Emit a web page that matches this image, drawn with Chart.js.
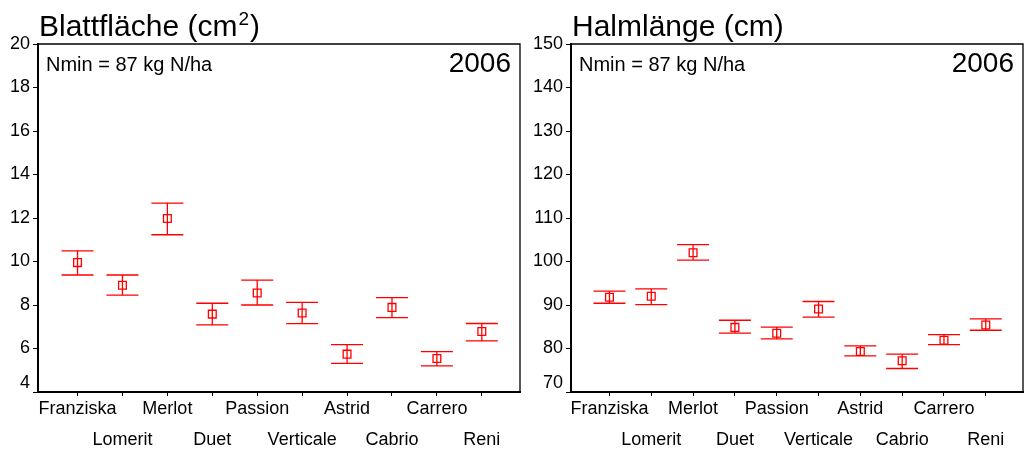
<!DOCTYPE html>
<html lang="de">
<head>
<meta charset="UTF-8"/>
<title>Blattfläche / Halmlänge 2006</title>
<style>
  html, body { margin:0; padding:0; background:#fff; }
  .panel { position:absolute; top:0; height:452px; }
  #leftPanel { left:0; width:521px; }
  #rightPanel { left:521px; width:503px; }
</style>
<script src="https://cdn.jsdelivr.net/npm/chart.js@4"></script>
</head>
<body>
<div class="panel" id="leftPanel"><canvas id="leafChart"></canvas></div>
<div class="panel" id="rightPanel"><canvas id="strawChart"></canvas></div>
<script>
  const categories = ['Franziska', 'Lomerit', 'Merlot', 'Duet', 'Passion', 'Verticale', 'Astrid', 'Cabrio', 'Carrero', 'Reni'];

  // Blattfläche (cm²)
  const leafMean = [9.95, 8.91, 11.98, 7.58, 8.55, 7.63, 5.74, 7.89, 5.54, 6.78];
  const leafLow  = [9.38, 8.45, 11.23, 7.09, 8.00, 7.14, 5.32, 7.42, 5.20, 6.35];
  const leafHigh = [10.49, 9.38, 12.68, 8.08, 9.14, 8.12, 6.18, 8.34, 5.86, 7.15];
  const leafTicks = [4, 6, 8, 10, 12, 14, 16, 18, 20];

  // Halmlänge (cm)
  const strawMean = [91.8, 92.0, 102.0, 84.85, 83.5, 89.1, 79.3, 77.2, 81.9, 85.4];
  const strawLow  = [90.4, 90.1, 100.3, 83.55, 82.2, 87.2, 78.3, 75.4, 80.9, 84.2];
  const strawHigh = [93.2, 93.7, 103.9, 86.5, 84.9, 90.8, 80.6, 78.7, 83.2, 86.8];
  const strawTicks = [70, 80, 90, 100, 110, 120, 130, 140, 150];

  const FONT = 'Arial, "Liberation Sans", sans-serif';
  const RED = '#ff0000';

  // error bars, frame and texts drawn with the chart's own scales
  const extras = {
    id: 'extras',
    afterDatasetsDraw(chart, args, opts) {
      const { ctx, chartArea: a, scales: { x, y } } = chart;
      ctx.save();
      ctx.strokeStyle = RED;
      ctx.lineWidth = 1.3;
      opts.low.forEach((lo, i) => {
        const px = x.getPixelForValue(i + 1);
        const yl = y.getPixelForValue(lo);
        const yh = y.getPixelForValue(opts.high[i]);
        ctx.beginPath();
        ctx.moveTo(px, yl); ctx.lineTo(px, yh);
        ctx.moveTo(px - 16, yl); ctx.lineTo(px + 16, yl);
        ctx.moveTo(px - 16, yh); ctx.lineTo(px + 16, yh);
        ctx.stroke();
      });
      // top and right frame
      ctx.strokeStyle = '#000';
      ctx.lineWidth = 1.3;
      ctx.beginPath();
      ctx.moveTo(a.left, a.top); ctx.lineTo(a.right, a.top); ctx.lineTo(a.right, a.bottom);
      ctx.stroke();
      // texts
      ctx.fillStyle = '#000';
      ctx.textBaseline = 'alphabetic';
      ctx.textAlign = 'left';
      ctx.font = '30px ' + FONT;
      let tx = a.left + 1;
      const ty = a.top - 8;
      ctx.fillText(opts.title, tx, ty);
      if (opts.sup) {
        tx += ctx.measureText(opts.title).width + 1;
        ctx.font = '19px ' + FONT;
        ctx.fillText(opts.sup, tx, ty - 11);
        tx += ctx.measureText(opts.sup).width + 1;
        ctx.font = '30px ' + FONT;
        ctx.fillText(')', tx, ty);
      }
      ctx.font = '20px ' + FONT;
      ctx.fillText('Nmin = 87 kg N/ha', a.left + 8, a.top + 27);
      ctx.textAlign = 'right';
      ctx.font = '28px ' + FONT;
      ctx.fillText('2006', a.right - 9, a.top + 28);
      ctx.restore();
    }
  };

  function makeChart(id, mean, low, high, yTicks, title, sup, yWidth, xMin, xMax) {
    return new Chart(document.getElementById(id), {
      type: 'scatter',
      data: {
        datasets: [{
          data: mean.map((v, i) => ({ x: i + 1, y: v })),
          pointStyle: 'rect',
          pointRadius: 5.5,
          pointHoverRadius: 5.5,
          borderColor: RED,
          backgroundColor: 'rgba(0,0,0,0)',
          borderWidth: 1.3
        }]
      },
      options: {
        responsive: true,
        maintainAspectRatio: false,
        animation: false,
        layout: { autoPadding: false, padding: { top: 44, right: 1, left: 0, bottom: 0 } },
        plugins: {
          legend: { display: false },
          tooltip: { enabled: false },
          extras: { low, high, title, sup }
        },
        scales: {
          x: {
            type: 'linear',
            min: xMin,
            max: xMax,
            afterBuildTicks: s => { s.ticks = categories.map((c, i) => ({ value: i + 1 })); },
            afterFit: s => { s.height = 60; s.paddingLeft = 0; s.paddingRight = 0; },
            grid: { drawOnChartArea: false, drawTicks: true, tickLength: 4, color: '#000' },
            border: { display: true, color: '#000', width: 2 },
            ticks: {
              autoSkip: false,
              maxRotation: 0,
              padding: -2,
              color: '#000',
              font: { family: FONT, size: 18, lineHeight: 1.7 },
              callback: v => {
                const i = Math.round(v) - 1;
                return i % 2 === 0 ? [categories[i], ''] : ['', categories[i]];
              }
            }
          },
          y: {
            min: yTicks[0],
            max: yTicks[yTicks.length - 1],
            afterBuildTicks: s => { s.ticks = yTicks.map(v => ({ value: v })); },
            afterFit: s => { s.width = yWidth; s.paddingTop = 0; s.paddingBottom = 0; },
            grid: { drawOnChartArea: false, drawTicks: true, tickLength: 5, color: '#000' },
            border: { display: true, color: '#000', width: 2 },
            ticks: {
              padding: 3,
              color: '#000',
              font: { family: FONT, size: 18, lineHeight: 1.0 },
              callback: v => v === yTicks[0] ? [String(v), ''] : String(v)
            }
          }
        }
      },
      plugins: [extras]
    });
  }

  makeChart('leafChart', leafMean, leafLow, leafHigh, leafTicks, 'Blattfläche (cm', '2', 38, 0.12, 10.85);
  makeChart('strawChart', strawMean, strawLow, strawHigh, strawTicks, 'Halmlänge (cm)', null, 50, 0.08, 10.89);
</script>
</body>
</html>
